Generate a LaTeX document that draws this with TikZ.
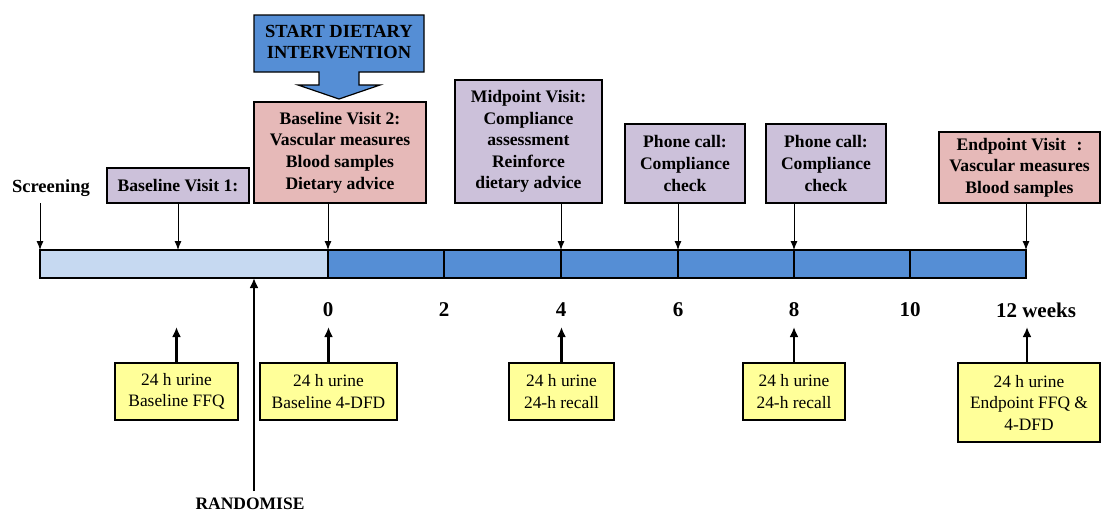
\documentclass[tikz,border=0pt]{standalone}
\usepackage{fontspec}
\setmainfont{Liberation Serif}
\usetikzlibrary{arrows.meta}
\definecolor{lightbar}{HTML}{C6D9F1}
\definecolor{darkbar}{HTML}{558ED5}
\definecolor{purplebox}{HTML}{CCC1DA}
\definecolor{pinkbox}{HTML}{E6B9B8}
\definecolor{yellowbox}{HTML}{FFFF99}
\begin{document}
\begin{tikzpicture}[x=1pt,y=-1pt,
  box/.style={draw=black, line width=1.2pt, align=center, inner sep=0pt,
    font=\fontsize{17.6}{21.6}\selectfont\bfseries},
  pbox/.style={box, fill=purplebox},
  kbox/.style={box, fill=pinkbox},
  ybox/.style={draw=black, fill=yellowbox, line width=1.2pt, align=center, inner sep=0pt,
    font=\fontsize{17.4}{21.5}\selectfont},
  dn/.style={-{Latex[length=9pt,width=7pt]}, line width=0.9pt},
  upar/.style={-{Latex[length=10pt,width=9pt]}, line width=2.4pt},
  num/.style={font=\fontsize{21}{24}\selectfont\bfseries},
  lbl/.style={font=\fontsize{18.5}{21}\selectfont\bfseries, inner sep=0pt}
]
\useasboundingbox (0,0) rectangle (1101,514);

% timeline bar
\draw[line width=1.2pt, fill=lightbar] (40,250) rectangle (328,278);
\draw[line width=1.2pt, fill=darkbar] (328,250) rectangle (1026,278);
\foreach \x in {444,561,678,794,910} \draw[line width=1.2pt] (\x,250) -- (\x,278);

% tick coordinates on bar top
\coordinate (ts) at (40,250);
\coordinate (tb) at (178,250);
\coordinate (t0) at (328,250);
\coordinate (t4) at (561,250);
\coordinate (t6) at (678,250);
\coordinate (t8) at (794,250);
\coordinate (t12) at (1026,250);
\coordinate (rb) at (254,278);
\coordinate (rs) at (254,491);

% start dietary intervention arrow
\draw[line width=1.2pt, fill=darkbar] (254,15) -- (424,15) -- (424,72) -- (359,72) -- (359,85)
  -- (380,85) -- (339,99) -- (298,85) -- (319,85) -- (319,72) -- (254,72) -- cycle;
\node[font=\fontsize{18.5}{21.7}\selectfont\bfseries, align=center] (start) at (339,42)
  {START DIETARY\\INTERVENTION};

% top boxes
\node[lbl] (scr) at (51,188) {Screening};
\node[pbox, minimum width=142, minimum height=35] (bv1) at (178,185.5) {Baseline Visit 1:};
\node[kbox, minimum width=172, minimum height=101] (bv2) at (340,152.5)
  {Baseline Visit 2:\\Vascular measures\\Blood samples\\Dietary advice};
\node[pbox, minimum width=147, minimum height=123] (mid) at (528.5,141.5)
  {Midpoint Visit:\\Compliance\\assessment\\Reinforce\\dietary advice};
\node[pbox, minimum width=120, minimum height=79] (ph1) at (685,163.5)
  {Phone call:\\Compliance\\check};
\node[pbox, minimum width=120, minimum height=79] (ph2) at (826,163.5)
  {Phone call:\\Compliance\\check};
\node[kbox, minimum width=161, minimum height=71] (end) at (1019.5,167.5)
  {Endpoint Visit\hspace{0.6em}:\\Vascular measures\\Blood samples};

% down arrows
\draw[dn] (ts |- 0,203) -- (ts);
\draw[dn] (bv1.south) -- (tb);
\draw[dn] (bv2.south -| t0) -- (t0);
\draw[dn] (mid.south -| t4) -- (t4);
\draw[dn] (ph1.south -| t6) -- (t6);
\draw[dn] (ph2.south -| t8) -- (t8);
\draw[dn] (end.south -| t12) -- (t12);

% week numbers
\node[num] (n0) at (328,310) {0};
\node[num] (n2) at (444,310) {2};
\node[num] (n4) at (561,310) {4};
\node[num] (n6) at (678,310) {6};
\node[num] (n8) at (794,310) {8};
\node[num] (n10) at (910,310) {10};
\node[num] (n12) at (1036,310) {12 weeks};

% bottom boxes
\node[ybox, minimum width=123, minimum height=57] (y1) at (176.5,391.5) {24 h urine\\Baseline FFQ};
\node[ybox, minimum width=137, minimum height=57] (y2) at (328.5,391.5) {24 h urine\\Baseline 4-DFD};
\node[ybox, minimum width=105, minimum height=57] (y3) at (561.5,391.5) {24 h urine\\24-h recall};
\node[ybox, minimum width=102, minimum height=57] (y4) at (794,391.5) {24 h urine\\24-h recall};
\node[ybox, minimum width=142, minimum height=79] (y5) at (1029,402.5) {24 h urine\\Endpoint FFQ \&\\4-DFD};

\coordinate (u1) at (176.5,327);
\coordinate (u2) at (328.5,327);
\coordinate (u3) at (561.5,327);
\coordinate (u4) at (794,327);
\coordinate (u5) at (1027,327);
\draw[upar] (y1.north) -- (u1);
\draw[upar] (y2.north) -- (u2);
\draw[upar] (y3.north) -- (u3);
\draw[upar] (y4.north) -- (u4);
\draw[upar] (y5.north -| u5) -- (u5);

% randomise
\draw[upar, line width=2.8pt] (rs) -- (rb);
\node[lbl, font=\fontsize{17.5}{20}\selectfont\bfseries] (rand) at (250,504) {RANDOMISE};
\end{tikzpicture}
\end{document}
